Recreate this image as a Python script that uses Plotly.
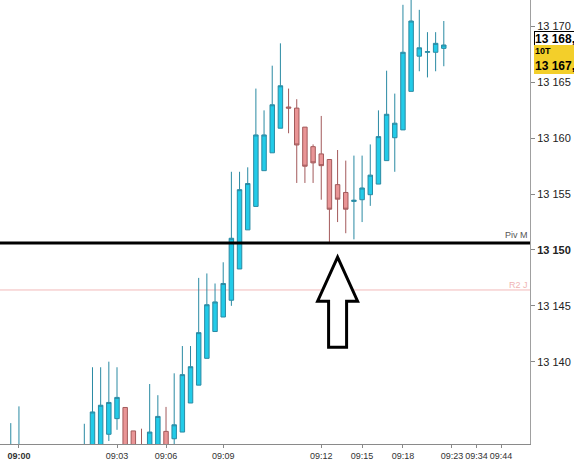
import plotly.graph_objects as go

# ---- data (10-tick bars) ----
bar_index = [-9, -8] + list(range(0, 45))
opens = [13130.5, 13130.8,
         13131.0, 13131.5, 13132.0, 13133.5, 13134.9, 13135.9, 13133.8, 13132.0, 13131.0, 13131.5,
         13133.76, 13133.1, 13133.7, 13136.3, 13137.9, 13140.3, 13142.7, 13144.0, 13145.5, 13148.3,
         13151.8, 13153.9, 13157.1, 13158.7, 13160.9, 13162.8, 13162.7, 13161.0, 13159.25, 13158.6,
         13158.1, 13155.85, 13155.15, 13154.35, 13154.5, 13154.95, 13155.9, 13158.0, 13160.05, 13160.75,
         13164.2, 13167.35, 13167.7, 13167.7, 13168.05]
highs = [13134.5, 13136.0,
         13134.44, 13139.5, 13139.5, 13140.0, 13139.5, 13135.9, 13133.8, 13134.0, 13138.0, 13137.0,
         13135.95, 13138.96, 13141.4, 13141.4, 13147.5, 13147.9, 13147.0, 13148.9, 13157.0, 13157.0,
         13157.4, 13164.45, 13162.5, 13166.5, 13168.5, 13164.45, 13163.5, 13161.0, 13159.45, 13162.0,
         13158.1, 13158.95, 13158.0, 13158.45, 13158.45, 13159.45, 13162.5, 13166.05, 13164.0, 13171.95,
         13173.0, 13171.5, 13169.5, 13169.5, 13170.5]
lows = [13130.0, 13130.3,
        13130.5, 13131.0, 13131.5, 13132.9, 13133.9, 13131.0, 13131.2, 13130.5, 13130.5, 13131.0,
        13131.0, 13132.0, 13133.7, 13136.3, 13137.9, 13140.3, 13142.7, 13144.0, 13145.0, 13148.3,
        13151.8, 13153.9, 13157.1, 13158.7, 13160.9, 13160.45, 13156.0, 13156.0, 13156.0, 13154.5,
        13150.7, 13152.5, 13151.5, 13150.95, 13152.5, 13153.95, 13155.9, 13158.0, 13157.0, 13160.75,
        13164.2, 13166.0, 13165.45, 13166.0, 13166.45]
closes = [13131.8, 13132.2,
          13132.3, 13135.5, 13136.1, 13136.35, 13136.8, 13131.5, 13131.8, 13131.0, 13133.7, 13135.1,
          13132.0, 13134.35, 13138.84, 13139.55, 13142.6, 13145.1, 13145.35, 13147.0, 13151.05, 13155.4,
          13155.95, 13160.3, 13160.3, 13163.0, 13164.7, 13162.7, 13159.4, 13157.5, 13157.8, 13157.55,
          13153.65, 13154.55, 13153.65, 13154.45, 13155.55, 13156.7, 13160.15, 13162.15, 13161.35, 13167.7,
          13170.5, 13168.1, 13167.75, 13168.5, 13168.35]

x_tick_bars = [-8, 4, 10, 17, 29, 34, 39, 45, 48, 51]
x_tick_labels = ["<b>09:00</b>", "09:03", "09:06", "09:09", "09:12", "09:15", "09:18", "09:23", "09:34", "09:44"]

y_tick_values = [13140, 13145, 13150, 13155, 13160, 13165, 13170]
y_tick_labels = ["13 140", "13 145", "<b>13 150</b>", "13 155", "13 160", "13 165", "13 170"]

pivot_month = 13150.63
r2_day = 13146.42
last_price_text = "13 168,3"
box_title = "10T"
box_price_text = "13 167,6"
arrow_bar = 31
arrow_tip_price = 13149.36

FONT = "Arial, Liberation Sans, sans-serif"

fig = go.Figure()
fig.add_trace(go.Candlestick(
    x=bar_index, open=opens, high=highs, low=lows, close=closes,
    increasing=dict(fillcolor="#22cbe8", line=dict(color="#2a8aa3", width=1)),
    decreasing=dict(fillcolor="#e99596", line=dict(color="#a35a5b", width=1)),
    whiskerwidth=0, hoverinfo="skip", showlegend=False,
))

# pivot lines
fig.add_shape(type="line", xref="paper", x0=0, x1=1, yref="y", y0=pivot_month, y1=pivot_month,
              line=dict(color="black", width=3), layer="above")
fig.add_shape(type="line", xref="paper", x0=0, x1=1, yref="y", y0=r2_day, y1=r2_day,
              line=dict(color="#f2b9b9", width=1), layer="below")
fig.add_annotation(text="Piv M", xref="paper", x=1, xanchor="right", yref="y", y=pivot_month,
                   yanchor="bottom", yshift=1, showarrow=False,
                   font=dict(family=FONT, size=9, color="#555555"))
fig.add_annotation(text="R2 J", xref="paper", x=1, xanchor="right", yref="y", y=r2_day,
                   yanchor="bottom", yshift=-2, showarrow=False,
                   font=dict(family=FONT, size=9, color="#f0b4b4"))

# hollow arrow (pixel path anchored at the tip)
fig.add_shape(type="path", xref="x", yref="y", xsizemode="pixel", ysizemode="pixel",
              xanchor=arrow_bar, yanchor=arrow_tip_price,
              path="M 0 0 L 20 -44 L 9 -44 L 9 -90 L -9 -90 L -9 -44 L -20 -44 Z",
              fillcolor="white", line=dict(color="black", width=3))

# price boxes on the right
fig.add_annotation(text="<b>" + last_price_text + "</b>", xref="paper", x=1, xanchor="left", xshift=4,
                   yref="paper", y=1 - 38.7 / 446, yanchor="middle", showarrow=False,
                   font=dict(family=FONT, size=12, color="black"),
                   bgcolor="white", bordercolor="black", borderwidth=1, borderpad=0, align="left")
fig.add_annotation(text="<b><span style='font-size:9px'>" + box_title + "</span><br>" + box_price_text + "</b>",
                   xref="paper", x=1, xanchor="left", xshift=4,
                   yref="paper", y=1 - 59.7 / 446, yanchor="middle", showarrow=False,
                   font=dict(family=FONT, size=12, color="black"),
                   bgcolor="#f3cf2a", borderwidth=0, borderpad=1, align="left")

fig.update_layout(
    width=574, height=461,
    margin=dict(l=0, r=44, t=0, b=15),
    paper_bgcolor="white", plot_bgcolor="white",
    separators=", ",
    boxgap=0.22,
    font=dict(family=FONT, size=10, color="#333333"),
    xaxis=dict(range=[-10.32, 54.55], rangeslider=dict(visible=False), showgrid=False, zeroline=False,
               tickmode="array", tickvals=x_tick_bars, ticktext=x_tick_labels, tickangle=0,
               ticks="outside", ticklen=3, tickcolor="#888888",
               showline=True, linecolor="#8a8a8a", linewidth=1,
               tickfont=dict(family=FONT, size=9, color="#333333")),
    yaxis=dict(side="right", range=[13132.63, 13172.38], showgrid=False, zeroline=False,
               tickmode="array", tickvals=y_tick_values, ticktext=y_tick_labels,
               ticks="outside", ticklen=4, tickcolor="#888888",
               showline=True, linecolor="#a0a0a0", linewidth=1,
               tickfont=dict(family=FONT, size=11, color="#222222")),
)

fig.write_html("out.html", config={"displayModeBar": False},
               post_script="document.body.style.margin='0';document.body.style.overflow='hidden';")
